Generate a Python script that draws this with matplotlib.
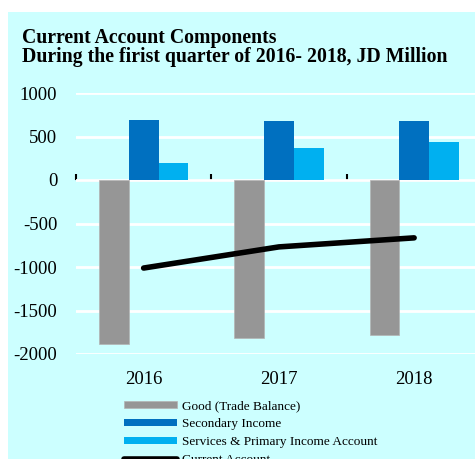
import numpy as np
import matplotlib.pyplot as plt
from matplotlib.patches import Rectangle

years = ['2016', '2017', '2018']
goods = [-1890, -1815, -1780]
secondary = [686, 678, 678]
services = [192, 368, 437]
current = [-1012, -769, -665]

plt.rcParams['font.family'] = ['Liberation Serif', 'DejaVu Serif']
plt.rcParams['axes.unicode_minus'] = False

fig = plt.figure(figsize=(4.75, 4.59), dpi=100, facecolor='white')
fig.patches.append(Rectangle((8 / 475, 0), 1, 1 - 12 / 459, transform=fig.transFigure,
                             facecolor='#CCFFFF', edgecolor='none', zorder=-5))

fig.text(22 / 475, 1 - 38 / 459, 'Current Account Components', fontsize=14.2,
         fontweight='bold', va='center')
fig.text(22 / 475, 1 - 57 / 459, 'During the firist quarter of 2016- 2018, JD Million',
         fontsize=14.2, fontweight='bold', va='center')

ax = fig.add_axes([76 / 475, 1 - 354 / 459, 1 - 76 / 475, (354 - 93) / 459])
ax.set_facecolor('none')

x = np.arange(len(years))
w = 0.22
b1 = ax.bar(x - w, goods, w, color='#969696', edgecolor='#B4B4B4', linewidth=0.5,
            label='Good (Trade Balance)', zorder=2)
b2 = ax.bar(x, secondary, w, color='#0070C0', label='Secondary Income', zorder=2)
b3 = ax.bar(x + w, services, w, color='#00B0F0',
            label='Services & Primary Income Account', zorder=2)
ln, = ax.plot(x, current, color='black', lw=4, solid_capstyle='round',
              label='Current Account', zorder=3)

ax.set_ylim(-2000, 1000)
ax.set_xlim(-0.5, 2.45)
ax.set_yticks(np.arange(-2000, 1001, 500))
ax.yaxis.grid(True, color='white', lw=2)
ax.set_axisbelow(True)
for s in ax.spines.values():
    s.set_visible(False)
ax.tick_params(axis='y', length=0, labelsize=13.5, pad=13.5)
ax.set_xticks(x)
ax.set_xticklabels(years)
ax.tick_params(axis='x', length=0, labelsize=13.5, pad=12)

# zero line with category tick marks
zero = 2000 / 3000
sec = ax.secondary_xaxis(zero)
sec.set_xticks([])
sec.set_xticks([-0.5, 0.5, 1.5, 2.5], minor=True)
sec.tick_params(which='minor', direction='out', length=4, width=1.5, color='black')
sec.spines['bottom'].set_linewidth(1.5)
sec.spines['bottom'].set_color('black')

fig.legend(handles=[b1, b2, b3, ln], loc='upper left',
           bbox_to_anchor=(124 / 475, 1 - 400 / 459), frameon=False,
           fontsize=9.5, handlelength=4, handleheight=0.45, labelspacing=0.45,
           handletextpad=0.4, borderaxespad=0, borderpad=0)

fig.savefig('out.png', dpi=100, facecolor=fig.get_facecolor())
